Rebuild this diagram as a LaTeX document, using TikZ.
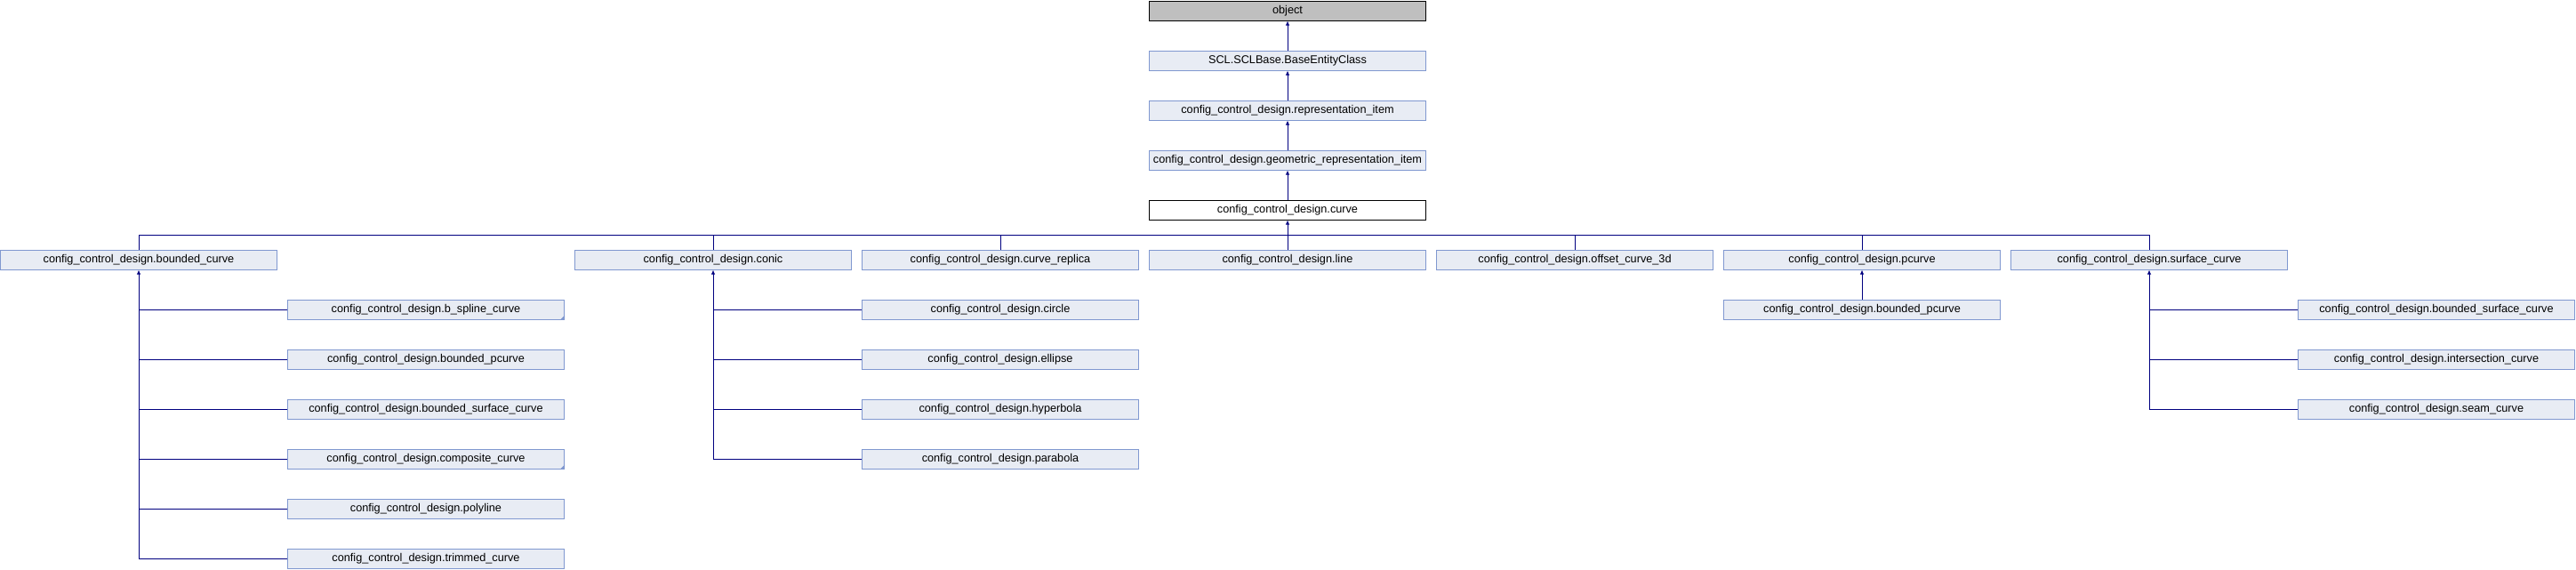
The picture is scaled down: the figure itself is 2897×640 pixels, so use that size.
\documentclass[tikz,border=0pt]{standalone}
\usepackage{fontspec}
\setmainfont{Liberation Sans}
\usetikzlibrary{arrows.meta}
\definecolor{boxfill}{HTML}{E8ECF4}
\definecolor{boxborder}{HTML}{8098D0}
\definecolor{linkcol}{HTML}{000080}
\definecolor{rootfill}{HTML}{BFBFBF}
\tikzset{
  cls/.style={draw=boxborder, fill=boxfill, line width=1pt, minimum width=311pt, minimum height=22pt,
    inner sep=0pt, font=\fontsize{12.7pt}{14pt}\selectfont, text=black},
  rootcls/.style={cls, draw=black, fill=rootfill},
  curcls/.style={cls, draw=black, fill=white},
  link/.style={draw=linkcol, line width=1pt},
  inh/.style={link, {Latex[length=5pt,width=4.5pt]}-},
  trunc/.style={fill=boxborder}
}
\begin{document}
\begin{tikzpicture}[x=1pt,y=-1pt]
\useasboundingbox (0,0) rectangle (2897,640);
% column centers: 323*c+156 ; row centers: 12+56*r
\node[rootcls] (object) at (1448,12) {object};
\node[cls] (base) at (1448,68) {SCL.SCLBase.BaseEntityClass};
\node[cls] (repitem) at (1448,124) {config\_control\_design.representation\_item};
\node[cls] (geomitem) at (1448,180) {config\_control\_design.geometric\_representation\_item};
\node[curcls] (curve) at (1448,236) {config\_control\_design.curve};
% row 5
\node[cls] (bcurve) at (156,292) {config\_control\_design.bounded\_curve};
\node[cls] (conic) at (802,292) {config\_control\_design.conic};
\node[cls] (replica) at (1125,292) {config\_control\_design.curve\_replica};
\node[cls] (line) at (1448,292) {config\_control\_design.line};
\node[cls] (offset) at (1771,292) {config\_control\_design.offset\_curve\_3d};
\node[cls] (pcurve) at (2094,292) {config\_control\_design.pcurve};
\node[cls] (surface) at (2417,292) {config\_control\_design.surface\_curve};
% bounded_curve children
\node[cls] (bspline) at (479,348) {config\_control\_design.b\_spline\_curve};
\node[cls] (bpcurveA) at (479,404) {config\_control\_design.bounded\_pcurve};
\node[cls] (bscurveA) at (479,460) {config\_control\_design.bounded\_surface\_curve};
\node[cls] (composite) at (479,516) {config\_control\_design.composite\_curve};
\node[cls] (polyline) at (479,572) {config\_control\_design.polyline};
\node[cls] (trimmed) at (479,628) {config\_control\_design.trimmed\_curve};
% conic children
\node[cls] (circle) at (1125,348) {config\_control\_design.circle};
\node[cls] (ellipse) at (1125,404) {config\_control\_design.ellipse};
\node[cls] (hyperbola) at (1125,460) {config\_control\_design.hyperbola};
\node[cls] (parabola) at (1125,516) {config\_control\_design.parabola};
% pcurve child
\node[cls] (bpcurveB) at (2094,348) {config\_control\_design.bounded\_pcurve};
% surface_curve children
\node[cls] (bscurveB) at (2740,348) {config\_control\_design.bounded\_surface\_curve};
\node[cls] (intersection) at (2740,404) {config\_control\_design.intersection\_curve};
\node[cls] (seam) at (2740,460) {config\_control\_design.seam\_curve};
% truncation marks
\fill[trunc] (bspline.south east) -- ++(-5,0) -- ++(5,-5) -- cycle;
\fill[trunc] (composite.south east) -- ++(-5,0) -- ++(5,-5) -- cycle;
% top chain
\draw[inh] (object.south) -- (base.north);
\draw[inh] (base.south) -- (repitem.north);
\draw[inh] (repitem.south) -- (geomitem.north);
\draw[inh] (geomitem.south) -- (curve.north);
% bus
\coordinate (bus) at (1448,264);
\draw[inh] (curve.south) -- (bus);
\draw[link] (bcurve.north) |- (bus -| surface.north) -- (surface.north);
\draw[link] (conic.north) -- (conic.north |- bus);
\draw[link] (replica.north) -- (replica.north |- bus);
\draw[link] (line.north) -- (line.north |- bus);
\draw[link] (offset.north) -- (offset.north |- bus);
\draw[link] (pcurve.north) -- (pcurve.north |- bus);
% bounded_curve tree
\draw[inh] (bcurve.south) |- (trimmed.west);
\foreach \c in {bspline,bpcurveA,bscurveA,composite,polyline}
  \draw[link] (bcurve.south |- \c.west) -- (\c.west);
% conic tree
\draw[inh] (conic.south) |- (parabola.west);
\foreach \c in {circle,ellipse,hyperbola}
  \draw[link] (conic.south |- \c.west) -- (\c.west);
% pcurve
\draw[inh] (pcurve.south) -- (bpcurveB.north);
% surface_curve tree
\draw[inh] (surface.south) |- (seam.west);
\foreach \c in {bscurveB,intersection}
  \draw[link] (surface.south |- \c.west) -- (\c.west);
\end{tikzpicture}
\end{document}
